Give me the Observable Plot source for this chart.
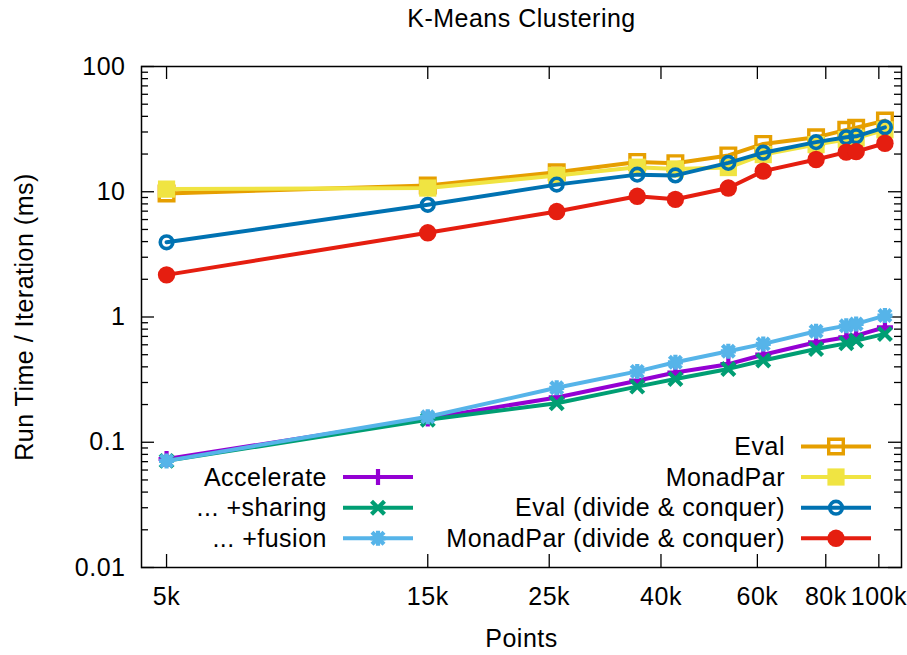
<!DOCTYPE html>
<html><head><meta charset="utf-8">
<script src="https://cdn.jsdelivr.net/npm/d3@7"></script>
<script src="https://cdn.jsdelivr.net/npm/@observablehq/plot@0.6"></script>
<style>
body{margin:0;background:#fff}
svg text{letter-spacing:0.5px}
</style>
</head><body><div id="chart"></div>
<script>
// ---- data ----
const points = [5000, 15000, 25800, 36200, 42500, 53100, 61500, 76800, 87200, 90900, 102600];
const evalMs        = [9.7, 11.2, 14.3, 17.3, 16.9, 19.5, 24.1, 27.2, 31.2, 32.4, 37.0];
const monadParMs    = [10.5, 10.7, 13.5, 15.7, 15.2, 15.6, 19.8, 23.8, 26.1, 26.8, 31.2];
const evalDcMs      = [3.95, 7.86, 11.4, 13.7, 13.5, 17.0, 20.5, 24.9, 27.2, 27.7, 32.7];
const monadParDcMs  = [2.17, 4.7, 6.95, 9.2, 8.7, 10.7, 14.6, 18.1, 20.7, 20.9, 24.4];
const accelerateMs  = [0.0735, 0.155, 0.228, 0.31, 0.36, 0.42, 0.50, 0.628, 0.689, 0.71, 0.828];
const sharingMs     = [0.071, 0.151, 0.205, 0.278, 0.32, 0.385, 0.449, 0.556, 0.616, 0.648, 0.733];
const fusionMs      = [0.071, 0.160, 0.272, 0.368, 0.435, 0.532, 0.61, 0.769, 0.853, 0.88, 1.026];

const xTicks = [5000, 15000, 25000, 40000, 60000, 80000, 100000];
const xTickLabels = ["5k", "15k", "25k", "40k", "60k", "80k", "100k"];
const yTicks = [0.01, 0.1, 1, 10, 100];
const yTickLabels = ["0.01", "0.1", "1", "10", "100"];
const yMinor = [0.01, 0.1, 1, 10].flatMap(d => [2,3,4,5,6,7,8,9].map(k => d * k));

const title = "K-Means Clustering";
const xLabel = "Points";
const yLabel = "Run Time / Iteration (ms)";

// ---- symbols ----
const plusSym = {draw(c, s) { const r = 8; c.moveTo(-r,0); c.lineTo(r,0); c.moveTo(0,-r); c.lineTo(0,r); }};
const timesSym = {draw(c, s) { const r = 6.5; c.moveTo(-r,-r); c.lineTo(r,r); c.moveTo(-r,r); c.lineTo(r,-r); }};
const starSym = {draw(c, s) { const r = 7.5, q = 6; c.moveTo(-r,0); c.lineTo(r,0); c.moveTo(0,-r); c.lineTo(0,r);
  c.moveTo(-q,-q); c.lineTo(q,q); c.moveTo(-q,q); c.lineTo(q,-q); }};
const squareSym = {draw(c, s) { const h = 7.3; c.moveTo(-h,-h); c.lineTo(h,-h); c.lineTo(h,h); c.lineTo(-h,h); c.closePath(); }};
const fSquareSym = {draw(c, s) { const h = 8.6; c.moveTo(-h,-h); c.lineTo(h,-h); c.lineTo(h,h); c.lineTo(-h,h); c.closePath(); }};
const circleSym = {draw(c, s) { const r = 6.3; c.moveTo(r,0); c.arc(0,0,r,0,2*Math.PI); }};
const fCircleSym = {draw(c, s) { const r = 8.7; c.moveTo(r,0); c.arc(0,0,r,0,2*Math.PI); }};

const groupA = [
  {name: "Accelerate", values: accelerateMs, color: "#9400d3", symbol: plusSym, filled: false, sw: 4.2},
  {name: "... +sharing", values: sharingMs, color: "#009e73", symbol: timesSym, filled: false, sw: 4.2},
  {name: "... +fusion", values: fusionMs, color: "#56b4e9", symbol: starSym, filled: false, sw: 4.2}
];
const groupB = [
  {name: "Eval", values: evalMs, color: "#e69f00", symbol: squareSym, filled: false, sw: 3.4},
  {name: "MonadPar", values: monadParMs, color: "#f0e442", symbol: fSquareSym, filled: true, sw: 0},
  {name: "Eval (divide & conquer)", values: evalDcMs, color: "#0072b2", symbol: circleSym, filled: false, sw: 3.6},
  {name: "MonadPar (divide & conquer)", values: monadParDcMs, color: "#e51e10", symbol: fCircleSym, filled: true, sw: 0}
];

// ---- layout ----
const W = 907, H = 655, mL = 141, mR = 6, mT = 66, mB = 88;
const pW = W - mL - mR, pH = H - mT - mB;
const FS = 25;
const LW = 4;

const seriesMarks = s => {
  const rows = points.map((x, i) => ({x, y: s.values[i]}));
  return [
    Plot.line(rows, {x: "x", y: "y", stroke: s.color, strokeWidth: LW}),
    Plot.dot(rows, {x: "x", y: "y", symbol: () => s.symbol, r: 5,
      fill: s.filled ? s.color : "none", stroke: s.filled ? "none" : s.color, strokeWidth: s.sw})
  ];
};

const txt = {fontSize: FS, fill: "#000", lineAnchor: "middle"};

const plot = Plot.plot({
  width: W, height: H,
  marginLeft: mL, marginRight: mR, marginTop: mT, marginBottom: mB,
  style: {fontFamily: "'Liberation Sans', Arial, sans-serif", fontSize: FS + "px", background: "#fff"},
  x: {type: "log", domain: [4500, 110000], axis: null},
  y: {type: "log", domain: [0.01, 100], axis: null},
  marks: [
    // ticks (inward, mirrored)
    Plot.tickY(yTicks, {y: d => d, insetRight: pW - 13, stroke: "#000", strokeWidth: 1.3, strokeOpacity: 1}),
    Plot.tickY(yTicks, {y: d => d, insetLeft: pW - 13, stroke: "#000", strokeWidth: 1.3, strokeOpacity: 1}),
    Plot.tickY(yMinor, {y: d => d, insetRight: pW - 7, stroke: "#000", strokeWidth: 1.3, strokeOpacity: 1}),
    Plot.tickY(yMinor, {y: d => d, insetLeft: pW - 7, stroke: "#000", strokeWidth: 1.3, strokeOpacity: 1}),
    Plot.tickX(xTicks, {x: d => d, insetTop: pH - 13, stroke: "#000", strokeWidth: 1.3, strokeOpacity: 1}),
    Plot.tickX(xTicks, {x: d => d, insetBottom: pH - 13, stroke: "#000", strokeWidth: 1.3, strokeOpacity: 1}),
    // tick labels
    Plot.text(yTicks, {...txt, y: d => d, text: (d, i) => yTickLabels[i], frameAnchor: "left", textAnchor: "end", dx: -16}),
    Plot.text(xTicks, {...txt, x: d => d, text: (d, i) => xTickLabels[i], frameAnchor: "bottom", textAnchor: "middle", dy: 29}),
    // titles
    Plot.text([title], {...txt, frameAnchor: "top", textAnchor: "middle", dy: -48}),
    Plot.text([xLabel], {...txt, frameAnchor: "bottom", textAnchor: "middle", dy: 71}),
    Plot.text([yLabel], {...txt, frameAnchor: "left", textAnchor: "middle", dx: -117, rotate: -90}),
    // series
    ...groupB.flatMap(seriesMarks),
    ...groupA.flatMap(seriesMarks),
    Plot.frame({stroke: "#000", strokeWidth: 1.5})
  ]
});

// ---- legends (inside the plot area) ----
const svg = d3.select(plot.tagName.toLowerCase() === "svg" ? plot : plot.querySelector("svg"));
function drawLegend(group, textRight, rowYs) {
  group.forEach((s, i) => {
    const y = rowYs[i];
    const g = svg.append("g");
    g.append("text").attr("x", textRight).attr("y", y).attr("text-anchor", "end")
      .attr("dy", "0.35em").attr("font-size", FS).attr("fill", "#000").text(s.name);
    g.append("line").attr("x1", textRight + 16).attr("x2", textRight + 86).attr("y1", y).attr("y2", y)
      .attr("stroke", s.color).attr("stroke-width", LW);
    g.append("path").attr("transform", `translate(${textRight + 51},${y})`)
      .attr("d", d3.symbol().type(s.symbol).size(80)())
      .attr("fill", s.filled ? s.color : "none").attr("stroke", s.filled ? "none" : s.color)
      .attr("stroke-width", s.sw);
  });
}
const rowsRight = [446.5, 477, 507.7, 538.3];
drawLegend(groupB, 785, rowsRight);
drawLegend(groupA, 327, rowsRight.slice(1));

document.getElementById("chart").appendChild(plot);
</script>
</body></html>
